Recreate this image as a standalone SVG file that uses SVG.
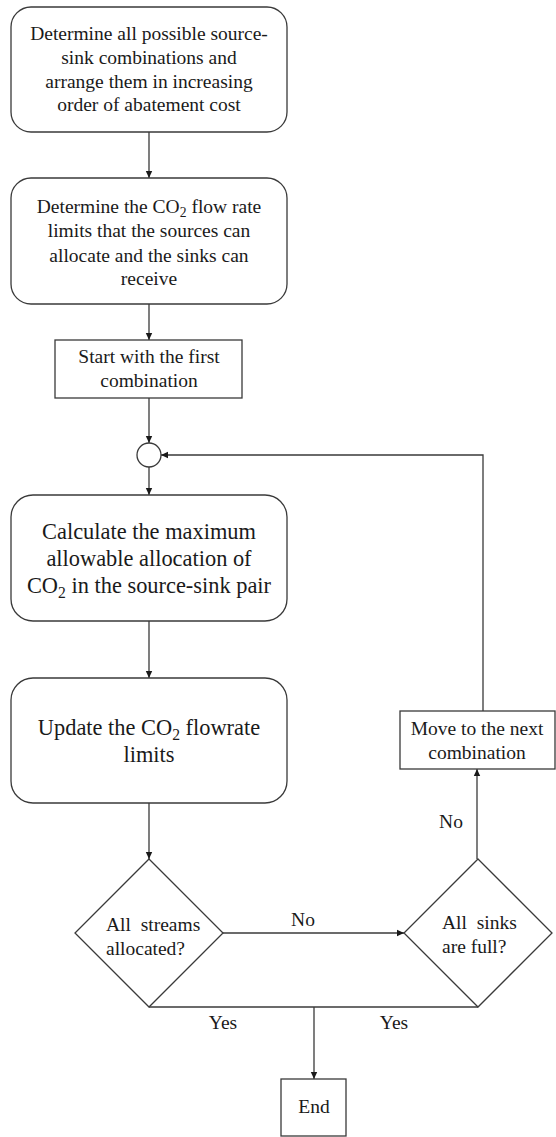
<svg xmlns="http://www.w3.org/2000/svg" width="556" height="1137" viewBox="0 0 556 1137">
<style>
.box{fill:#fff;stroke:#3a3a3a;stroke-width:1.3}
.ln{fill:none;stroke:#3a3a3a;stroke-width:1.3}
text{font-family:"Liberation Serif","Times New Roman",serif;fill:#1a1a1a}
.t17{font-size:19.5px;text-anchor:middle}
.t22{font-size:22.4px;text-anchor:middle}
.t16{font-size:19.5px}
.sub{font-size:70%}
</style>
<defs>
<marker id="ah" markerWidth="8" markerHeight="8" refX="7" refY="4" orient="auto" markerUnits="userSpaceOnUse">
<path d="M0,0.8 L7,4 L0,7.2 Z" fill="#1a1a1a"/>
</marker>
</defs>
<rect width="556" height="1137" fill="#fff"/>
<g id="connectors">
<line class="ln" x1="149" y1="132" x2="149" y2="178" marker-end="url(#ah)"/>
<line class="ln" x1="149" y1="304" x2="149" y2="340" marker-end="url(#ah)"/>
<line class="ln" x1="149" y1="398" x2="149" y2="443" marker-end="url(#ah)"/>
<line class="ln" x1="149" y1="467" x2="149" y2="495" marker-end="url(#ah)"/>
<line class="ln" x1="149" y1="621" x2="149" y2="678" marker-end="url(#ah)"/>
<line class="ln" x1="149" y1="803" x2="149" y2="859" marker-end="url(#ah)"/>
<line class="ln" x1="223" y1="933" x2="404" y2="933" marker-end="url(#ah)"/>
<line class="ln" x1="477" y1="859" x2="477" y2="769" marker-end="url(#ah)"/>
<polyline class="ln" points="483,711 483,455 161,455" marker-end="url(#ah)"/>
<line class="ln" x1="149" y1="1007" x2="478" y2="1007"/>
<line class="ln" x1="314" y1="1007" x2="314" y2="1079" marker-end="url(#ah)"/>
<text class="t16" x="303" y="926" text-anchor="middle">No</text>
<text class="t16" x="451" y="828" text-anchor="middle">No</text>
<text class="t16" x="223" y="1029" text-anchor="middle">Yes</text>
<text class="t16" x="394" y="1029" text-anchor="middle">Yes</text>
</g>
<g id="n1">
<rect class="box" x="11" y="7" width="276" height="125" rx="20"/>
<text class="t17" x="149" y="40">Determine all possible source-</text>
<text class="t17" x="149" y="64">sink combinations and</text>
<text class="t17" x="149" y="88">arrange them in increasing</text>
<text class="t17" x="149" y="111">order of abatement cost</text>
</g>
<g id="n2">
<rect class="box" x="11" y="178" width="276" height="126" rx="20"/>
<text class="t17" x="149" y="213">Determine the CO<tspan class="sub" dy="4">2</tspan><tspan dy="-4"> flow rate</tspan></text>
<text class="t17" x="149" y="237">limits that the sources can</text>
<text class="t17" x="149" y="262">allocate and the sinks can</text>
<text class="t17" x="149" y="285">receive</text>
</g>
<g id="n3">
<rect class="box" x="55" y="340" width="187" height="58"/>
<text class="t17" x="149" y="363">Start with the first</text>
<text class="t17" x="149" y="387">combination</text>
</g>
<g id="n4">
<circle class="box" cx="149" cy="455" r="12"/>
</g>
<g id="n5">
<rect class="box" x="11" y="495" width="276" height="126" rx="22"/>
<text class="t22" x="149" y="539">Calculate the maximum</text>
<text class="t22" x="149" y="566">allowable allocation of</text>
<text class="t22" x="149" y="593">CO<tspan class="sub" dy="5">2</tspan><tspan dy="-5"> in the source-sink pair</tspan></text>
</g>
<g id="n6">
<rect class="box" x="11" y="678" width="276" height="125" rx="22"/>
<text class="t22" x="149" y="735">Update the CO<tspan class="sub" dy="5">2</tspan><tspan dy="-5"> flowrate</tspan></text>
<text class="t22" x="149" y="762">limits</text>
</g>
<g id="n7">
<polygon class="box" points="149,859 223,933 149,1007 75,933"/>
<text class="t16" x="106" y="931" xml:space="preserve">All  streams</text>
<text class="t16" x="106" y="955">allocated?</text>
</g>
<g id="n8">
<polygon class="box" points="478,859 552,933 478,1007 404,933"/>
<text class="t16" x="442" y="929" xml:space="preserve">All  sinks</text>
<text class="t16" x="442" y="953">are full?</text>
</g>
<g id="n9">
<rect class="box" x="400" y="711" width="155" height="58"/>
<text class="t17" x="477" y="735">Move to the next</text>
<text class="t17" x="477" y="759">combination</text>
</g>
<g id="n10">
<rect class="box" x="281" y="1079" width="65" height="57"/>
<text class="t17" x="314" y="1113">End</text>
</g>
</svg>
